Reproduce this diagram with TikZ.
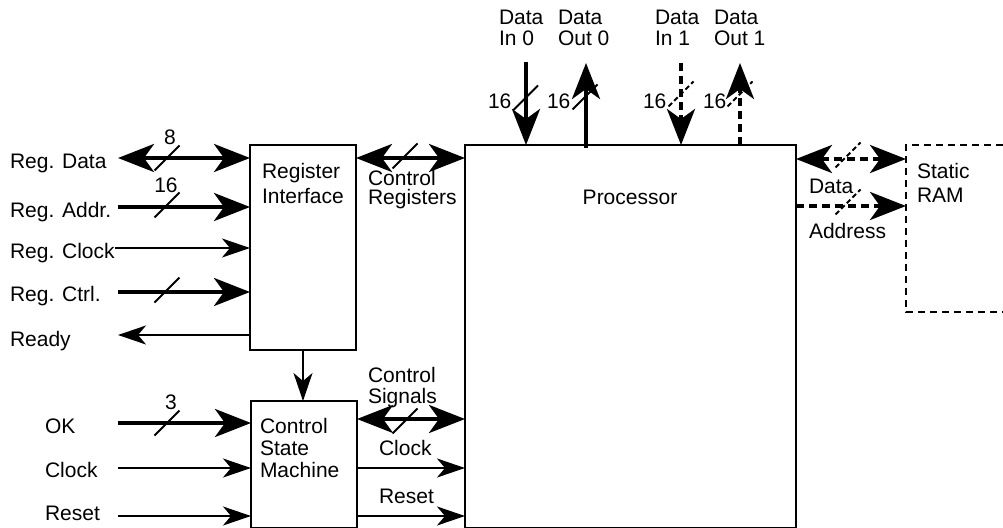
\documentclass[tikz,border=0pt]{standalone}
\usepackage{fontspec}
\setmainfont{Liberation Sans}
\usetikzlibrary{arrows.meta,calc}
\newcommand\labfont[1]{\fontsize{21}{#1}\selectfont}
\newcommand\busmark[2][]{\draw[line width=2pt,#1] (#2) ++(-12.5,12.5) -- ++(25,-25);}
\tikzset{
  bigtip/.tip={Stealth[length=36pt,width=28pt,inset=10pt]},
  smalltip/.tip={Stealth[length=28pt,width=19pt,inset=8pt]},
}
\begin{document}
\begin{tikzpicture}[x=1pt,y=-1pt,
  every node/.style={inner sep=0pt, outer sep=0pt, font=\labfont{21}},
  box/.style={draw, line width=2pt, anchor=north west},
  thickarrow/.style={line width=4pt, -bigtip},
  thickboth/.style={line width=4pt, bigtip-bigtip},
  thinarrow/.style={line width=2pt, -smalltip},
  dashbus/.style={dash pattern=on 8pt off 5pt},
  dashthin/.style={dash pattern=on 5pt off 3pt},
  dashbox/.style={line width=2pt, dash pattern=on 7pt off 5pt},
]
\useasboundingbox (0,0) rectangle (1003,527);

% boxes
\node[box, minimum width=106pt, minimum height=205pt] (ri) at (250,145) {};
\node[box, minimum width=106pt, minimum height=127pt] (csm) at (251,401) {};
\node[box, minimum width=331pt, minimum height=383pt] (proc) at (465,145) {};
\node[anchor=north west, minimum width=97pt, minimum height=167pt] (ram) at (906,145) {};
\draw[dashbox] (ram.north east) -- (ram.north west) -- (ram.south west) -- (ram.south east);

% box texts
\node[anchor=north west, align=left, font=\labfont{25}] (tri) at (262,163) {Register\\Interface};
\node[anchor=north west, align=left, font=\labfont{22}] (tcsm) at (260,418) {Control\\State\\Machine};
\node[anchor=base] (tproc) at (630,204) {Processor};
\node[anchor=north west, align=left, font=\labfont{24}] (tram) at (917,163) {Static\\RAM};

% left labels
\node[anchor=base west] (lrd) at (10,168) {Reg. Data};
\node[anchor=base west] (lra) at (10,217) {Reg. Addr.};
\node[anchor=base west] (lrc) at (10,258) {Reg. Clock};
\node[anchor=base west] (lrt) at (10,301) {Reg. Ctrl.};
\node[anchor=base west] (lre) at (10,346) {Ready};
\node[anchor=base west] (lok) at (45,433) {OK};
\node[anchor=base west] (lck) at (45,477) {Clock};
\node[anchor=base west] (lrs) at (45,520) {Reset};

% left arrows
\coordinate (rd) at (118,158);
\coordinate (ra) at (118,207);
\coordinate (rc) at (115,248);
\coordinate (rt) at (118,292);
\coordinate (re) at (118,335);
\draw[thickboth] (rd) -- (rd -| ri.west);
\draw[thickarrow] (ra) -- (ra -| ri.west);
\draw[thinarrow] (rc) -- (rc -| ri.west);
\draw[thickarrow] (rt) -- (rt -| ri.west);
\draw[thinarrow] (re -| ri.west) -- (re);
\busmark{167,158}
\busmark{167,205}
\busmark{167,290}
\node[anchor=base] (n8) at (170,144) {8};
\node[anchor=base] (n16a) at (166,192) {16};

\coordinate (ok) at (118,423);
\coordinate (ck) at (118,468);
\coordinate (rs) at (118,516);
\draw[thickarrow] (ok) -- (ok -| csm.west);
\draw[thinarrow] (ck) -- (ck -| csm.west);
\draw[thinarrow] (rs) -- (rs -| csm.west);
\busmark{167,423}
\node[anchor=base] (n3) at (171,409) {3};

% register interface -> control state machine
\draw[thinarrow] (ri.south) -- (ri.south |- csm.north);

% control registers
\coordinate (cry) at (400,158);
\draw[thickboth] (cry -| ri.east) -- (cry -| proc.west);
\busmark{405,156}
\node[anchor=north west, align=left, font=\labfont{19}] (tcr) at (368,170) {Control\\Registers};

% control signals, clock, reset
\coordinate (csy) at (400,419);
\coordinate (cky) at (400,468);
\coordinate (rsy) at (400,516);
\draw[thickboth] (csy -| csm.east) -- (csy -| proc.west);
\busmark{405,421}
\node[anchor=north west, align=left, font=\labfont{21}] (tcs) at (368,367) {Control\\Signals};
\draw[thinarrow] (cky -| csm.east) -- (cky -| proc.west);
\node[anchor=base west] (tck) at (379,455) {Clock};
\draw[thinarrow] (rsy -| csm.east) -- (rsy -| proc.west);
\node[anchor=base west] (trs) at (379,503) {Reset};

% top data ports
\node[anchor=north west, align=left, font=\labfont{21.5}] (tin0) at (499,10) {Data\\In 0};
\node[anchor=north west, align=left, font=\labfont{21.5}] (tout0) at (558,10) {Data\\Out 0};
\node[anchor=north west, align=left, font=\labfont{21.5}] (tin1) at (655,10) {Data\\In 1};
\node[anchor=north west, align=left, font=\labfont{21.5}] (tout1) at (714,10) {Data\\Out 1};
\coordinate (in0) at (526,62);
\coordinate (out0) at (586,63);
\coordinate (out0b) at (586,148);
\coordinate (in1) at (681,63);
\coordinate (out1) at (740,63);
\draw[thickarrow] (in0) -- (in0 |- proc.north);
\draw[thickarrow] (out0b) -- (out0);
\draw[thickarrow, dashbus] (in1) -- (in1 |- proc.north);
\draw[thickarrow, dashbus] (out1 |- proc.north) -- (out1);
\busmark{525.5,98}
\busmark{585,97}
\busmark[dashthin]{681,94}
\busmark[dashthin]{740,94}
\node[anchor=base west] (w0) at (488,108) {16};
\node[anchor=base west] (w1) at (547,108) {16};
\node[anchor=base west] (w2) at (643,108) {16};
\node[anchor=base west] (w3) at (703,108) {16};

% static RAM connections
\coordinate (dty) at (850,159);
\coordinate (ady) at (850,206);
\draw[thickboth, dashbus] (dty -| proc.east) -- (dty -| ram.west);
\draw[thickarrow, dashbus] (ady -| proc.east) -- (ady -| ram.west);
\busmark[dashthin]{848,155}
\busmark[dashthin]{848,202}
\node[anchor=base west] (tdata) at (809,193) {Data};
\node[anchor=base west] (taddr) at (809,238) {Address};
\end{tikzpicture}
\end{document}
